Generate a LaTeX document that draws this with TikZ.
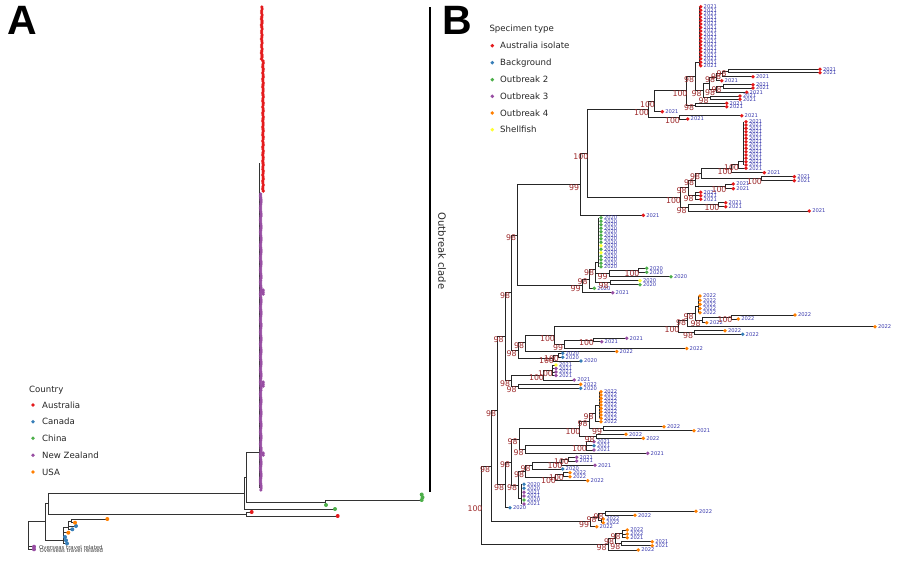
\documentclass[tikz,border=0pt]{standalone}
\usepackage{fontspec}
\setmainfont{DejaVu Sans}
\newfontfamily\hdfont{Liberation Sans}
\pgfdeclarelayer{bg}
\pgfsetlayers{bg,main}
\definecolor{cAU}{HTML}{E41A1C}
\definecolor{cCA}{HTML}{377EB8}
\definecolor{cCN}{HTML}{4DAF4A}
\definecolor{cNZ}{HTML}{984EA3}
\definecolor{cUS}{HTML}{FF7F00}
\definecolor{cSF}{HTML}{FFFF33}
\definecolor{yrc}{HTML}{3A3AAE}
\definecolor{bsc}{HTML}{9E2A2B}
\tikzset{
 br/.style={draw=black!85, line width=1pt},
 bra/.style={draw=black!80, line width=0.85pt},
 yr/.style={anchor=west, inner sep=0pt, text=yrc, font=\fontsize{5.2}{5.2}\selectfont},
 bsl/.style={inner sep=0pt, text=bsc, font=\fontsize{7.8}{7.8}\selectfont},
 leg/.style={anchor=west, inner sep=0pt, text=black!85, font=\fontsize{8.6}{10}\selectfont},
 ovs/.style={anchor=west, inner sep=0pt, text=black!75, font=\fontsize{5.4}{5.4}\selectfont},
 panel/.style={inner sep=0pt, font=\hdfont\bfseries\fontsize{41}{41}\selectfont},
}
% tree helpers
\newcommand\edg[2]{\begin{pgfonlayer}{bg}\draw[br] (#1) |- (#2);\end{pgfonlayer}}
\newcommand\edgA[2]{\begin{pgfonlayer}{bg}\draw[bra] (#1) |- (#2);\end{pgfonlayer}}
\newcommand\leafB[6]{\coordinate (#2) at (#3,#4);
 \begin{pgfonlayer}{bg}\draw[br] (#1) |- (#2);\end{pgfonlayer}
 \fill[#5] (#2) circle (1.9);
 \node[yr] at ([xshift=2.8pt]#2) {#6};}
\newcommand\leafA[5]{\coordinate (#2) at (#3,#4);
 \begin{pgfonlayer}{bg}\draw[bra] (#1) |- (#2);\end{pgfonlayer}
 \fill[#5] (#2) circle (2.0);}
\newcommand\bsv[2]{\node[bsl] at ([shift={(-6.5,3)}]#1) {#2};}
\newcommand\colB[6]{\foreach \i in {0,...,#4}{\pgfmathsetmacro\yy{#2+#3*\i}
 \fill[#5] (#1,\yy) circle (1.9); \node[yr] at (#1+2.8,\yy) {#6};}}
\newcommand\vbar[3]{\begin{pgfonlayer}{bg}\draw[br] (#1,#2) -- (#1,#3);\end{pgfonlayer}}

\begin{document}
\begin{tikzpicture}[x=1pt,y=-1pt]
\begin{pgfonlayer}{bg}\fill[white] (0,0) rectangle (900,560);\end{pgfonlayer}
\useasboundingbox (0,0) rectangle (900,560);

% ---------------- panel letters
\node[panel] (lA) at (22.5,20) {A};
\node[panel] (lB) at (457.5,20) {B};

% ---------------- PANEL A
\draw[line width=1.5pt] (430,7) -- (430,492);
\node[rotate=-90, inner sep=0pt, text=black!85, font=\fontsize{10}{10}\selectfont] (oc) at (442,251) {Outbreak clade};

\node[leg] (cty) at (29,390) {Country};
\foreach \yy/\cc/\tx [count=\n] in {405/cAU/Australia,421.7/cCA/Canada,438.3/cCN/China,455.3/cNZ/New Zealand,472/cUS/USA}{
 \fill[\cc] (33,\yy) circle (1.9);
 \node[leg] (lgA\n) at (42,\yy) {\tx};}

\coordinate (B0) at (259.3,452.3);
\coordinate (Ca) at (246.7,477.3);
\coordinate (Cb) at (325,502.3);
\coordinate (Cc) at (244.3,493);
\coordinate (Cd) at (246,514);
\coordinate (Ce) at (48.3,503.5);
\coordinate (Cf) at (45,521.7);
\coordinate (Cg) at (63.3,540);
\coordinate (G2) at (68,527);
\coordinate (G3) at (71.7,521);
\coordinate (Ch) at (28.3,535);
\begin{pgfonlayer}{bg}\draw[bra] (259.3,163) -- (259.3,488);\end{pgfonlayer}
\edgA{Ca}{B0}\edgA{Ca}{Cb}\edgA{Cc}{Ca}\edgA{Ce}{Cc}\edgA{Ce}{Cd}
\edgA{Cf}{Ce}\edgA{Cf}{Cg}\edgA{Ch}{Cf}\edgA{Cg}{G2}\edgA{G2}{G3}
\leafA{Cb}{ga1}{421.7}{500}{cCN}
\fill[cCN] (421.7,494.5) circle (2.0); \fill[cCN] (422.5,497.3) circle (2.0);
\leafA{Cb}{ga2}{326}{505}{cCN}
\leafA{Cc}{ga3}{335}{509}{cCN}
\leafA{Cd}{ra1}{251.7}{512}{cAU}
\leafA{Cd}{ra2}{337.7}{516}{cAU}
\leafA{Ch}{pa1}{34}{546.7}{cNZ}
\leafA{Ch}{pa2}{34}{549.3}{cNZ}
\leafA{Cg}{ua1}{68.3}{532.7}{cUS}
\leafA{Cg}{ca1}{65}{537}{cCA}
\leafA{Cg}{ca2}{66}{540.3}{cCA}
\leafA{Cg}{ca3}{67}{543.5}{cCA}
\leafA{G2}{ca4}{76}{526}{cCA}
\leafA{G2}{ca5}{72.3}{529.3}{cCA}
\leafA{G3}{ua2}{107.3}{519}{cUS}
\leafA{G3}{ua3}{75}{522.7}{cUS}
\node[ovs] (ov1) at (39,547) {Overseas travel related};
\node[ovs] (ov2) at (39.5,550.3) {Overseas travel related};
% outbreak clade column
\foreach \yy in {7,9,...,191}{\pgfmathsetmacro\xx{(\yy<61?261.8:263.0)+0.3*sin(\yy*53)}
 \fill[cAU] (\xx,\yy) circle (1.8);}
\foreach \yy in {194,196,...,490}{\pgfmathsetmacro\xx{260.8+0.3*sin(\yy*29)}
 \fill[cNZ] (\xx,\yy) circle (1.8);}
\foreach \yy in {62,64,100,102,160,162,292,294,384,386,455}{\fill[cAU!0!cNZ] (263.4,\yy) circle (0);}
\foreach \yy in {290,292,294,382,384,386,453,455}{\fill[cNZ] (263.2,\yy) circle (1.8);}

% ---------------- PANEL B legend
\node[leg] (spt) at (489.3,29) {Specimen type};
\foreach \yy/\cc/\tx [count=\n] in {45.7/cAU/Australia isolate,62.7/cCA/Background,79.7/cCN/Outbreak 2,96.3/cNZ/Outbreak 3,113/cUS/Outbreak 4,129.7/cSF/Shellfish}{
 \fill[\cc] (492.3,\yy) circle (1.9);
 \node[leg] (lgB\n) at (500,\yy) {\tx};}

% ---------------- PANEL B tree
% upper clade
\coordinate (U0) at (587.3,153.6);
\coordinate (U1) at (648,109.25);
\coordinate (a) at (654,101.2);
\coordinate (c) at (679,117.35);
\coordinate (U4) at (686.5,90.65);
\coordinate (d) at (695.5,76.2);
\coordinate (COLn) at (699,62);
\coordinate (f) at (703,90.4);
\coordinate (J) at (709.5,83.2);
\coordinate (h) at (716.5,77.1);
\coordinate (i) at (722.5,73.9);
\coordinate (P2) at (728,71);
\coordinate (k) at (716.5,89.3);
\coordinate (P5) at (723,86.35);
\coordinate (m) at (710,97.65);
\coordinate (g) at (695.5,105);
\edg{U0}{U1}\edg{U1}{a}\edg{U1}{c}\edg{a}{U4}\edg{U4}{d}\edg{U4}{g}
\edg{d}{COLn}\edg{d}{f}\edg{f}{J}\edg{f}{m}\edg{J}{h}\edg{J}{k}\edg{h}{i}\edg{i}{P2}\edg{k}{P5}
\vbar{699}{6.7}{65.7}
\colB{700.7}{6.7}{3.47}{17}{cAU}{2021}
\leafB{a}{L9}{662.3}{111.7}{cAU}{2021}
\leafB{c}{L10}{741.7}{115.7}{cAU}{2021}
\leafB{c}{L11}{687.7}{119}{cAU}{2021}
\leafB{h}{L4}{721.7}{80.7}{cAU}{2021}
\leafB{i}{L3}{753}{76.7}{cAU}{2021}
\leafB{P2}{L2a}{820}{69.3}{cAU}{2021}
\leafB{P2}{L2b}{820}{72.7}{cAU}{2021}
\leafB{k}{L6}{746.7}{92.3}{cAU}{2021}
\leafB{P5}{L5a}{753}{84.7}{cAU}{2021}
\leafB{P5}{L5b}{753}{88}{cAU}{2021}
\leafB{m}{L7a}{740}{96}{cAU}{2021}
\leafB{m}{L7b}{740}{99.3}{cAU}{2021}
\leafB{g}{L8a}{726.7}{103.3}{cAU}{2021}
\leafB{g}{L8b}{726.7}{106.7}{cAU}{2021}
\bsv{U1}{100}\bsv{a}{100}\bsv{c}{100}\bsv{U4}{100}\bsv{d}{98}\bsv{f}{98}\bsv{h}{98}
\bsv{i}{98}\bsv{P2}{98}\bsv{k}{98}\bsv{P5}{98}\bsv{m}{98}\bsv{g}{98}
% second red group
\coordinate (W0) at (680,197.9);
\coordinate (n6) at (688,187.9);
\coordinate (n5) at (695.5,180);
\coordinate (n4) at (701.5,173.7);
\coordinate (n2) at (731.5,168.7);
\coordinate (n1) at (738,164.65);
\coordinate (COL2n) at (743,161);
\coordinate (n3) at (761,178.7);
\coordinate (Pn) at (725.5,186.35);
\coordinate (n7) at (695,195.8);
\coordinate (n8) at (688,207.85);
\coordinate (P9) at (718.5,204.7);
\edg{U0}{W0}\edg{W0}{n6}\edg{W0}{n8}\edg{n6}{n5}\edg{n6}{n7}\edg{n5}{n4}\edg{n5}{Pn}
\edg{n4}{n2}\edg{n4}{n3}\edg{n2}{n1}\edg{n1}{COL2n}\edg{n8}{P9}
\vbar{743}{121.7}{165}
\colB{746}{121.7}{3.33}{13}{cAU}{2021}
\leafB{n2}{M1}{764.3}{172.7}{cAU}{2021}
\leafB{n1}{M2}{746}{168.3}{cAU}{2021}
\leafB{n3}{M3a}{794.3}{176.7}{cAU}{2021}
\leafB{n3}{M3b}{794.3}{180.7}{cAU}{2021}
\leafB{Pn}{M4a}{733.3}{184}{cAU}{2021}
\leafB{Pn}{M4b}{733.3}{188.7}{cAU}{2021}
\leafB{n7}{M5a}{700.7}{192.3}{cAU}{2021}
\leafB{n7}{M5b}{700.7}{195.7}{cAU}{2021}
\leafB{n7}{M5c}{700.7}{199.3}{cAU}{2021}
\leafB{n8}{M6}{809.3}{211}{cAU}{2021}
\leafB{P9}{M7a}{725.7}{202.7}{cAU}{2021}
\leafB{P9}{M7b}{725.7}{206.7}{cAU}{2021}
\bsv{U0}{100}\bsv{W0}{100}\bsv{n6}{98}\bsv{n5}{98}\bsv{n4}{98}\bsv{n2}{100}\bsv{n1}{100}
\bsv{n3}{100}\bsv{Pn}{100}\bsv{n7}{98}\bsv{n8}{98}\bsv{P9}{100}
% backbone
\coordinate (X1) at (580.7,184.45);
\coordinate (X2) at (517.7,235.15);
\coordinate (A4) at (582,285.85);
\coordinate (X3) at (511.5,292.8);
\coordinate (X4) at (518,350.4);
\coordinate (X5) at (505,336.8);
\coordinate (R2) at (497.5,410.85);
\coordinate (R1) at (491.5,466.4);
\coordinate (R) at (481.5,505.4);
\edg{X1}{U0}\edg{X2}{X1}\edg{X2}{A4}\edg{X3}{X2}\edg{X3}{X4}\edg{X5}{X3}\edg{R2}{X5}\edg{R1}{R2}\edg{R}{R1}
\leafB{X1}{M8}{643.3}{215.3}{cAU}{2021}
\bsv{X1}{99}\bsv{X2}{98}\bsv{X3}{98}\bsv{X5}{98}\bsv{R2}{98}\bsv{R1}{98}\bsv{R}{100}
% outbreak 2
\coordinate (A2) at (589,279);
\coordinate (A1) at (595.5,269.7);
\coordinate (COLGn) at (598,262);
\coordinate (o2) at (609,273.5);
\coordinate (o1) at (638.5,270.3);
\coordinate (o3) at (610,282.7);
\edg{A4}{A2}\edg{A2}{A1}\edg{A1}{COLGn}\edg{A1}{o2}\edg{A1}{o3}\edg{o2}{o1}
\vbar{598}{217.7}{266.7}
\foreach \i/\cc in {0/cCN,1/cCN,2/cCN,3/cCN,4/cCN,5/cCN,6/cCN,7/cCN,8/cSF,9/cCN,10/cSF,11/cCN,12/cCN,13/cCN,14/cCN}{
 \pgfmathsetmacro\yy{217.7+3.5*\i}\fill[\cc] (601,\yy) circle (1.9); \node[yr] at (603.8,\yy) {2020};}
\leafB{A4}{N1}{612.7}{292.7}{cNZ}{2021}
\leafB{A2}{N2}{594.3}{288.3}{cCN}{2020}
\leafB{o2}{N3}{671}{276.7}{cCN}{2020}
\leafB{o1}{N4a}{646.7}{268.3}{cCN}{2020}
\leafB{o1}{N4b}{646.7}{272.3}{cCN}{2020}
\leafB{o3}{N5a}{640}{280.7}{cSF}{2020}
\leafB{o3}{N5b}{640}{284.7}{cCN}{2020}
\bsv{A4}{99}\bsv{A2}{98}\bsv{A1}{98}\bsv{o2}{99}\bsv{o1}{100}\bsv{o3}{98}
% outbreak 4 upper group
\coordinate (Y1) at (525.5,342.6);
\coordinate (Y2a) at (553,358.15);
\coordinate (Y2b) at (558,355.3);
\coordinate (Y3) at (554,335.25);
\coordinate (Z1) at (678.5,326.25);
\coordinate (Z2) at (564.5,344.25);
\coordinate (Z3) at (593,340);
\coordinate (Q1) at (687.5,320);
\coordinate (Q2) at (694.5,332.5);
\coordinate (Q3) at (695,313.3);
\coordinate (Q4) at (702,320.3);
\coordinate (Q5) at (731.5,317);
\coordinate (COLOn) at (698,306.3);
\edg{X4}{Y1}\edg{X4}{Y2a}\edg{Y1}{Y3}\edg{Y3}{Z1}\edg{Y3}{Z2}\edg{Z2}{Z3}\edg{Z1}{Q1}\edg{Z1}{Q2}
\edg{Q1}{Q3}\edg{Q3}{COLOn}\edg{Q3}{Q4}\edg{Q4}{Q5}\edg{Y2a}{Y2b}
\vbar{698}{296}{312.7}
\colB{700}{296}{4.18}{4}{cUS}{2022}
\leafB{Q1}{O1}{875}{326.7}{cUS}{2022}
\leafB{Q5}{O2}{795}{315}{cUS}{2022}
\leafB{Q5}{O3}{738.3}{319}{cUS}{2022}
\leafB{Q4}{O4}{706.7}{322.7}{cUS}{2022}
\leafB{Q2}{O5}{725}{330.7}{cUS}{2022}
\leafB{Q2}{O6}{742.7}{334.3}{cCA}{2022}
\leafB{Z3}{O7}{626.7}{338.3}{cNZ}{2021}
\leafB{Z3}{O8}{601.7}{341.7}{cNZ}{2021}
\leafB{Z2}{O9}{686.7}{348.5}{cUS}{2022}
\leafB{Y1}{O10}{616.7}{351.5}{cUS}{2022}
\leafB{Y2b}{O11}{562.7}{353.3}{cCA}{2020}
\leafB{Y2b}{O12}{562.7}{357.3}{cCA}{2020}
\leafB{Y2a}{O13}{581}{361}{cCA}{2020}
\bsv{X4}{98}\bsv{Y1}{98}\bsv{Y3}{100}\bsv{Z1}{100}\bsv{Z2}{99}\bsv{Z3}{100}\bsv{Q1}{98}
\bsv{Q2}{98}\bsv{Q3}{98}\bsv{Q4}{98}\bsv{Q5}{100}\bsv{Y2a}{100}\bsv{Y2b}{100}
% small mixed group
\coordinate (X8) at (511.5,380.7);
\coordinate (X9) at (543,375.1);
\coordinate (X10) at (518,386.3);
\coordinate (X11) at (552,370.25);
\edg{X5}{X8}\edg{X8}{X9}\edg{X8}{X10}\edg{X9}{X11}
\leafB{X11}{T1}{556}{365}{cSF}{2021}
\leafB{X11}{T2}{556}{368.5}{cNZ}{2021}
\leafB{X11}{T3}{556}{372}{cNZ}{2021}
\leafB{X11}{T4}{556}{375.5}{cNZ}{2021}
\leafB{X9}{T5}{574.3}{380}{cNZ}{2021}
\leafB{X10}{T6}{580.7}{384.3}{cUS}{2022}
\leafB{X10}{T7}{580.7}{388.3}{cCA}{2020}
\bsv{X8}{98}\bsv{X9}{100}\bsv{X10}{98}\bsv{X11}{100}
% lower groups
\coordinate (R3) at (505.5,484.9);
\coordinate (R4) at (511.5,462.05);
\coordinate (R5) at (519,439.1);
\coordinate (R6) at (518.5,485);
\coordinate (R7) at (525.5,471.65);
\coordinate (R8) at (532,465.6);
\coordinate (R8a) at (561.5,462.2);
\coordinate (R8b) at (568,459.15);
\coordinate (R9) at (555,477.7);
\coordinate (R9a) at (563,474.7);
\coordinate (C6n) at (521.5,498.3);
\coordinate (S0) at (579.5,428.65);
\coordinate (S1) at (525,449.6);
\coordinate (S2) at (586,445.9);
\coordinate (S3) at (589,421);
\coordinate (S4) at (596,436.3);
\coordinate (S5) at (595,413.35);
\coordinate (S6) at (603.5,428.7);
\coordinate (COLO2n) at (599,405);
\edg{R2}{R3}\edg{R3}{R4}\edg{R4}{R5}\edg{R4}{R6}\edg{R6}{R7}\edg{R6}{C6n}\edg{R7}{R8}\edg{R7}{R9}
\edg{R8}{R8a}\edg{R8a}{R8b}\edg{R9}{R9a}\edg{R5}{S0}\edg{R5}{S1}\edg{S1}{S2}\edg{S0}{S3}\edg{S0}{S4}
\edg{S3}{S5}\edg{S3}{S6}\edg{S5}{COLO2n}
\vbar{599}{391.7}{418.4}
\colB{601}{391.7}{3.33}{8}{cUS}{2022}
\leafB{S5}{V1}{601}{421.7}{cUS}{2022}
\leafB{S6}{V2}{664}{426.7}{cUS}{2022}
\leafB{S6}{V3}{694}{430.7}{cUS}{2021}
\leafB{S4}{V4}{626}{434.3}{cUS}{2022}
\leafB{S4}{V5}{643.3}{438.3}{cUS}{2022}
\leafB{S2}{V6}{594}{441.7}{cNZ}{2021}
\leafB{S2}{V7}{594}{445.7}{cCA}{2021}
\leafB{S2}{V8}{594}{450}{cNZ}{2021}
\leafB{S1}{V9}{647.7}{453.3}{cNZ}{2021}
\leafB{R8b}{V10}{576.7}{457.3}{cNZ}{2021}
\leafB{R8b}{V11}{576.7}{461}{cNZ}{2021}
\leafB{R8a}{V12}{595}{465.3}{cNZ}{2021}
\leafB{R8}{V13}{562.7}{469}{cCA}{2020}
\leafB{R9a}{V14}{570}{472.7}{cUS}{2022}
\leafB{R9a}{V15}{570}{476.7}{cUS}{2022}
\leafB{R9}{V16}{587.7}{480.7}{cUS}{2022}
\vbar{521.5}{484.3}{504}
\foreach \yy/\cc/\tx in {484.3/cCA/2020,488.3/cCA/2020,492.3/cNZ/2021,496/cNZ/2021,500/cCN/2020,504/cNZ/2021}{
 \fill[\cc] (524,\yy) circle (1.9); \node[yr] at (526.8,\yy) {\tx};}
\leafB{R3}{V17}{510}{507.7}{cCA}{2020}
\bsv{R3}{98}\bsv{R4}{98}\bsv{R5}{98}\bsv{R6}{98}\bsv{R7}{98}\bsv{R8}{98}\bsv{R8a}{100}\bsv{R8b}{100}
\bsv{R9}{100}\bsv{R9a}{100}\bsv{S0}{100}\bsv{S1}{98}\bsv{S2}{100}\bsv{S3}{98}\bsv{S4}{98}\bsv{S5}{98}\bsv{S6}{99}
% bottom groups
\coordinate (BB) at (590.5,521.9);
\coordinate (BB1) at (598,517.1);
\coordinate (BB2) at (605,513.3);
\coordinate (BBp) at (601.5,520.85);
\coordinate (BC) at (608,544.4);
\coordinate (BC1) at (615.5,538.8);
\coordinate (BC2) at (622,533.85);
\coordinate (BC3) at (621.8,543.7);
\edg{R1}{BB}\edg{BB}{BB1}\edg{BB1}{BB2}\edg{BB1}{BBp}\edg{R}{BC}\edg{BC}{BC1}\edg{BC1}{BC2}\edg{BC1}{BC3}
\leafB{BB2}{K1}{696}{511.3}{cUS}{2022}
\leafB{BB2}{K2}{635}{515.3}{cUS}{2022}
\leafB{BBp}{K3}{603.3}{519}{cUS}{2022}
\leafB{BBp}{K4}{603.3}{522.7}{cUS}{2022}
\leafB{BB}{K5}{596.7}{526.7}{cUS}{2022}
\leafB{BC2}{K6}{627.3}{530}{cUS}{2022}
\leafB{BC2}{K7}{627.3}{534}{cUS}{2022}
\leafB{BC2}{K8}{627.3}{537.7}{cUS}{2021}
\leafB{BC3}{K9}{652.3}{541.7}{cUS}{2021}
\leafB{BC3}{K10}{652.3}{545.7}{cUS}{2021}
\leafB{BC}{K11}{638.3}{550}{cUS}{2022}
\bsv{BB}{99}\bsv{BB1}{98}\bsv{BB2}{98}\bsv{BC}{98}\bsv{BC1}{98}\bsv{BC2}{98}\bsv{BC3}{98}
\end{tikzpicture}
\end{document}
